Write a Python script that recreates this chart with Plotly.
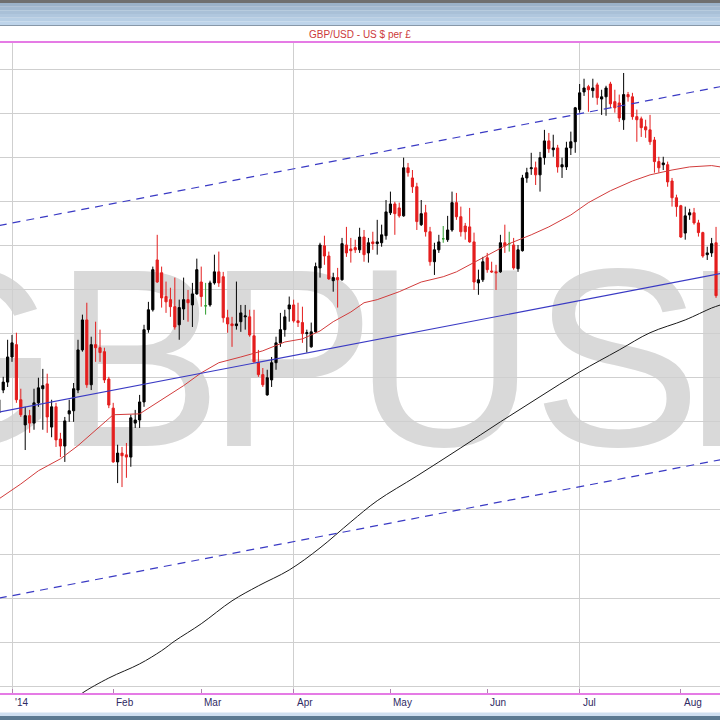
import pandas as pd
import plotly.graph_objects as go

# ---------------- data ----------------
dates = pd.bdate_range("2013-12-27", "2014-08-13")

opens = [1.6420, 1.6472, 1.6490, 1.6547, 1.6575, 1.6450, 1.6393, 1.6414, 1.6397, 1.6443,
         1.6475, 1.6486, 1.6388, 1.6434, 1.6361, 1.6345, 1.6418, 1.6425, 1.6472, 1.6563,
         1.6631, 1.6484, 1.6575, 1.6568, 1.6559, 1.6497, 1.6431, 1.6309, 1.6329, 1.6325,
         1.6320, 1.6397, 1.6404, 1.6445, 1.6609, 1.6654, 1.6767, 1.6738, 1.6684, 1.6677,
         1.6661, 1.6620, 1.6656, 1.6677, 1.6665, 1.6690, 1.6717, 1.6663, 1.6665, 1.6715,
         1.6740, 1.6729, 1.6636, 1.6622, 1.6618, 1.6627, 1.6638, 1.6638, 1.6595, 1.6534,
         1.6507, 1.6461, 1.6495, 1.6534, 1.6579, 1.6609, 1.6656, 1.6665, 1.6629, 1.6625,
         1.6600, 1.6570, 1.6604, 1.6749, 1.6799, 1.6776, 1.6720, 1.6727, 1.6722, 1.6801,
         1.6792, 1.6795, 1.6790, 1.6819, 1.6783, 1.6808, 1.6804, 1.6806, 1.6822, 1.6874,
         1.6894, 1.6885, 1.6867, 1.6976, 1.6953, 1.6933, 1.6847, 1.6874, 1.6831, 1.6763,
         1.6790, 1.6815, 1.6813, 1.6835, 1.6897, 1.6865, 1.6844, 1.6842, 1.6808, 1.6715,
         1.6722, 1.6772, 1.6742, 1.6740, 1.6740, 1.6806, 1.6804, 1.6801, 1.6747, 1.6788,
         1.6953, 1.6974, 1.6976, 1.6960, 1.6999, 1.7037, 1.7017, 1.7021, 1.6978, 1.6978,
         1.7021, 1.7035, 1.7108, 1.7148, 1.7160, 1.7151, 1.7164, 1.7132, 1.7137, 1.7166,
         1.7126, 1.7123, 1.7085, 1.7142, 1.7137, 1.7092, 1.7087, 1.7069, 1.7062, 1.7039,
         1.6990, 1.6983, 1.6983, 1.6946, 1.6908, 1.6890, 1.6828, 1.6869, 1.6874, 1.6851,
         1.6829, 1.6779, 1.6783, 1.6806]
highs = [1.6461, 1.6502, 1.6586, 1.6597, 1.6602, 1.6475, 1.6434, 1.6427, 1.6475, 1.6500,
         1.6520, 1.6509, 1.6450, 1.6443, 1.6375, 1.6411, 1.6450, 1.6488, 1.6586, 1.6643,
         1.6670, 1.6593, 1.6627, 1.6609, 1.6568, 1.6502, 1.6443, 1.6348, 1.6343, 1.6352,
         1.6416, 1.6427, 1.6461, 1.6620, 1.6672, 1.6752, 1.6824, 1.6752, 1.6718, 1.6704,
         1.6727, 1.6677, 1.6727, 1.6699, 1.6715, 1.6770, 1.6752, 1.6715, 1.6720, 1.6779,
         1.6786, 1.6740, 1.6654, 1.6638, 1.6718, 1.6665, 1.6665, 1.6654, 1.6654, 1.6563,
         1.6522, 1.6518, 1.6547, 1.6593, 1.6647, 1.6654, 1.6684, 1.6677, 1.6670, 1.6661,
         1.6609, 1.6625, 1.6761, 1.6806, 1.6822, 1.6786, 1.6738, 1.6749, 1.6817, 1.6842,
         1.6817, 1.6813, 1.6840, 1.6835, 1.6817, 1.6831, 1.6858, 1.6847, 1.6903, 1.6922,
         1.6899, 1.6897, 1.6999, 1.6987, 1.6971, 1.6942, 1.6903, 1.6892, 1.6842, 1.6806,
         1.6824, 1.6844, 1.6867, 1.6922, 1.6919, 1.6888, 1.6851, 1.6885, 1.6829, 1.6745,
         1.6774, 1.6783, 1.6763, 1.6756, 1.6824, 1.6847, 1.6831, 1.6817, 1.6801, 1.6960,
         1.6976, 1.7010, 1.6990, 1.7012, 1.7062, 1.7055, 1.7051, 1.7028, 1.6999, 1.7035,
         1.7058, 1.7114, 1.7166, 1.7178, 1.7164, 1.7178, 1.7169, 1.7153, 1.7162, 1.7171,
         1.7153, 1.7142, 1.7191, 1.7148, 1.7146, 1.7108, 1.7092, 1.7085, 1.7096, 1.7046,
         1.7001, 1.7001, 1.6990, 1.6953, 1.6915, 1.6892, 1.6888, 1.6883, 1.6885, 1.6858,
         1.6831, 1.6797, 1.6817, 1.6842]
lows = [1.6404, 1.6465, 1.6479, 1.6536, 1.6443, 1.6411, 1.6336, 1.6375, 1.6382, 1.6434,
        1.6382, 1.6375, 1.6365, 1.6343, 1.6320, 1.6309, 1.6400, 1.6400, 1.6465, 1.6559,
        1.6477, 1.6472, 1.6536, 1.6536, 1.6488, 1.6431, 1.6307, 1.6261, 1.6252, 1.6273,
        1.6298, 1.6386, 1.6386, 1.6434, 1.6602, 1.6650, 1.6715, 1.6659, 1.6647, 1.6638,
        1.6609, 1.6586, 1.6631, 1.6627, 1.6615, 1.6688, 1.6661, 1.6643, 1.6661, 1.6711,
        1.6706, 1.6625, 1.6602, 1.6570, 1.6609, 1.6604, 1.6609, 1.6593, 1.6534, 1.6502,
        1.6479, 1.6459, 1.6479, 1.6518, 1.6570, 1.6593, 1.6627, 1.6625, 1.6615, 1.6579,
        1.6557, 1.6568, 1.6602, 1.6727, 1.6756, 1.6722, 1.6695, 1.6659, 1.6720, 1.6774,
        1.6761, 1.6783, 1.6783, 1.6763, 1.6761, 1.6790, 1.6779, 1.6797, 1.6813, 1.6869,
        1.6824, 1.6863, 1.6865, 1.6956, 1.6919, 1.6835, 1.6844, 1.6820, 1.6754, 1.6733,
        1.6783, 1.6806, 1.6808, 1.6831, 1.6858, 1.6820, 1.6813, 1.6806, 1.6699, 1.6688,
        1.6717, 1.6738, 1.6738, 1.6699, 1.6738, 1.6783, 1.6786, 1.6745, 1.6740, 1.6786,
        1.6942, 1.6960, 1.6937, 1.6922, 1.6983, 1.7010, 1.7001, 1.6965, 1.6953, 1.6971,
        1.7005, 1.7010, 1.7101, 1.7139, 1.7103, 1.7135, 1.7119, 1.7096, 1.7094, 1.7112,
        1.7101, 1.7080, 1.7062, 1.7126, 1.7085, 1.7035, 1.7046, 1.7044, 1.7028, 1.6965,
        1.6965, 1.6971, 1.6933, 1.6888, 1.6865, 1.6817, 1.6813, 1.6858, 1.6847, 1.6820,
        1.6772, 1.6767, 1.6774, 1.6681]
closes = [1.6450, 1.6490, 1.6547, 1.6579, 1.6450, 1.6416, 1.6414, 1.6397, 1.6443, 1.6477,
          1.6482, 1.6411, 1.6434, 1.6359, 1.6345, 1.6402, 1.6425, 1.6475, 1.6563, 1.6631,
          1.6484, 1.6575, 1.6568, 1.6557, 1.6495, 1.6438, 1.6309, 1.6329, 1.6323, 1.6320,
          1.6409, 1.6404, 1.6445, 1.6609, 1.6654, 1.6745, 1.6717, 1.6681, 1.6672, 1.6661,
          1.6615, 1.6659, 1.6677, 1.6670, 1.6690, 1.6745, 1.6684, 1.6663, 1.6715, 1.6740,
          1.6715, 1.6636, 1.6622, 1.6618, 1.6622, 1.6647, 1.6640, 1.6597, 1.6536, 1.6507,
          1.6484, 1.6500, 1.6534, 1.6579, 1.6609, 1.6638, 1.6665, 1.6629, 1.6625, 1.6600,
          1.6602, 1.6604, 1.6752, 1.6801, 1.6776, 1.6724, 1.6727, 1.6722, 1.6804, 1.6783,
          1.6788, 1.6790, 1.6819, 1.6779, 1.6806, 1.6804, 1.6808, 1.6824, 1.6876, 1.6894,
          1.6872, 1.6867, 1.6976, 1.6965, 1.6933, 1.6854, 1.6872, 1.6831, 1.6763, 1.6790,
          1.6808, 1.6815, 1.6835, 1.6897, 1.6865, 1.6831, 1.6831, 1.6808, 1.6717, 1.6722,
          1.6763, 1.6745, 1.6740, 1.6738, 1.6806, 1.6799, 1.6804, 1.6749, 1.6790, 1.6953,
          1.6965, 1.6976, 1.6960, 1.6999, 1.7037, 1.7019, 1.7021, 1.6978, 1.6983, 1.7021,
          1.7035, 1.7112, 1.7146, 1.7157, 1.7153, 1.7157, 1.7135, 1.7137, 1.7157, 1.7121,
          1.7112, 1.7089, 1.7142, 1.7137, 1.7092, 1.7085, 1.7067, 1.7062, 1.7035, 1.6990,
          1.6976, 1.6987, 1.6944, 1.6908, 1.6888, 1.6819, 1.6867, 1.6874, 1.6851, 1.6829,
          1.6776, 1.6783, 1.6804, 1.6686]

# moving averages
ma_red_dates = ["2013-12-27", "2014-01-03", "2014-01-09", "2014-01-16", "2014-01-22", "2014-01-28",
                "2014-01-31", "2014-02-03", "2014-02-11", "2014-02-18", "2014-02-25", "2014-03-03",
                "2014-03-07", "2014-03-14", "2014-03-21", "2014-03-28", "2014-04-03", "2014-04-09",
                "2014-04-14", "2014-04-18", "2014-04-23", "2014-04-28", "2014-05-05", "2014-05-12",
                "2014-05-19", "2014-05-22", "2014-05-27", "2014-06-02", "2014-06-09", "2014-06-16",
                "2014-06-20", "2014-06-27", "2014-07-03", "2014-07-10", "2014-07-17", "2014-07-23",
                "2014-07-30", "2014-08-05", "2014-08-12", "2014-08-14"]
ma_red_vals = [1.6225, 1.6259, 1.6289, 1.6316, 1.6346, 1.6382, 1.6409, 1.6416, 1.6418, 1.6450,
               1.6482, 1.6511, 1.6534, 1.6547, 1.6561, 1.6581, 1.6588, 1.6606, 1.6627, 1.6649,
               1.6670, 1.6677, 1.6695, 1.6717, 1.6729, 1.6740, 1.6756, 1.6779, 1.6804, 1.6824,
               1.6842, 1.6869, 1.6897, 1.6924, 1.6946, 1.6960, 1.6971, 1.6978, 1.6981, 1.6978]

ma_black_dates = ["2014-01-21", "2014-01-23", "2014-01-31", "2014-02-11", "2014-02-18", "2014-02-21",
                  "2014-03-03", "2014-03-12", "2014-03-20", "2014-03-31", "2014-04-09", "2014-04-18",
                  "2014-04-28", "2014-05-09", "2014-05-23", "2014-06-05", "2014-06-18", "2014-07-01",
                  "2014-07-14", "2014-07-23", "2014-08-04", "2014-08-12", "2014-08-14"]
ma_black_vals = [1.5769, 1.5785, 1.5819, 1.5851, 1.5881, 1.5903, 1.5942, 1.5994, 1.6028, 1.6064,
                 1.6114, 1.6173, 1.6221, 1.6277, 1.6341, 1.6400, 1.6457, 1.6513, 1.6563, 1.6602,
                 1.6631, 1.6658, 1.6665]

# trend channel (end points)
channel_dates = ["2013-12-27", "2014-08-14"]
channel_upper = [1.6845, 1.7160]
channel_mid = [1.6422, 1.6736]
channel_lower = [1.6000, 1.6314]

month_ticks = ["2014-01-01", "2014-02-03", "2014-03-03", "2014-04-01",
               "2014-05-01", "2014-06-02", "2014-07-01", "2014-08-01"]
month_labels = ["'14", "Feb", "Mar", "Apr", "May", "Jun", "Jul", "Aug"]
quarter_ticks = ["2014-01-01", "2014-04-01", "2014-07-01"]

title_text = "GBP/USD - US $ per £"
watermark_text = "GBPUSD"

# ---------------- styling ----------------
RED = "#e41e1e"
BLUE = "#3a3ac4"
GRID = "#cfcfcf"
PINK = "#e57be5"
FONT = "Liberation Sans, Arial, sans-serif"

assert len(dates) == len(opens) == len(highs) == len(lows) == len(closes)

is_doji = [o == c for o, c in zip(opens, closes)]
main_i = [i for i, d in enumerate(is_doji) if not d]
doji_i = [i for i, d in enumerate(is_doji) if d]

fig = go.Figure()

fig.add_trace(go.Candlestick(
    x=[dates[i] for i in main_i],
    open=[opens[i] for i in main_i], high=[highs[i] for i in main_i],
    low=[lows[i] for i in main_i], close=[closes[i] for i in main_i],
    increasing=dict(line=dict(color="#000000", width=1), fillcolor="#000000"),
    decreasing=dict(line=dict(color=RED, width=1), fillcolor=RED),
    whiskerwidth=0, hoverinfo="skip", showlegend=False))

fig.add_trace(go.Candlestick(
    x=[dates[i] for i in doji_i],
    open=[opens[i] for i in doji_i], high=[highs[i] for i in doji_i],
    low=[lows[i] for i in doji_i], close=[closes[i] for i in doji_i],
    increasing=dict(line=dict(color="#2e9e2e", width=1), fillcolor="#2e9e2e"),
    decreasing=dict(line=dict(color="#2e9e2e", width=1), fillcolor="#2e9e2e"),
    whiskerwidth=0, hoverinfo="skip", showlegend=False))

fig.add_trace(go.Scatter(x=ma_red_dates, y=ma_red_vals, mode="lines",
                         line=dict(color="#d23c3c", width=1), hoverinfo="skip", showlegend=False))
fig.add_trace(go.Scatter(x=ma_black_dates, y=ma_black_vals, mode="lines",
                         line=dict(color="#1a1a1a", width=1, shape="spline"), hoverinfo="skip", showlegend=False))
fig.add_trace(go.Scatter(x=channel_dates, y=channel_mid, mode="lines",
                         line=dict(color=BLUE, width=1.2), hoverinfo="skip", showlegend=False))
for ys in (channel_upper, channel_lower):
    fig.add_trace(go.Scatter(x=channel_dates, y=ys, mode="lines",
                             line=dict(color=BLUE, width=1.2, dash="8px,6px"),
                             hoverinfo="skip", showlegend=False))

# ---------------- layout ----------------
W, H, T, B = 720, 720, 43, 27
ph = H - T - B


def py(px):
    """pixel row -> paper y"""
    return (H - B - px) / ph


def pxx(px):
    """pixel column -> paper x"""
    return px / W


shapes = []
# watermark, one letter at a time (tight tracking), below the grid
letter_centers = [-39, 138, 291, 445, 617, 774]
for ch, cx in zip(watermark_text, letter_centers):
    shapes.append(dict(type="rect", xref="paper", yref="paper",
                       x0=pxx(cx - 110), x1=pxx(cx + 110), y0=py(434), y1=py(234),
                       line=dict(width=0), fillcolor="rgba(0,0,0,0)", layer="below",
                       label=dict(text=ch, textposition="middle center",
                                  font=dict(family="Liberation Sans, Arial, sans-serif",
                                            size=254, color="#d9d9d9"))))
# header bar
shapes.append(dict(type="rect", xref="paper", yref="paper", x0=0, x1=1, y0=py(3), y1=py(0),
                   line=dict(width=0), fillcolor="#6f6f6f", layer="above"))
grad = ["#9bb2c9", "#a2b9d0", "#a9c0d7", "#b0c7de", "#b7cee4", "#bed4ea"]
step = 22 / len(grad)
for k, c in enumerate(grad):
    shapes.append(dict(type="rect", xref="paper", yref="paper", x0=0, x1=1,
                       y0=py(3 + (k + 1) * step), y1=py(3 + k * step),
                       line=dict(width=0), fillcolor=c, layer="above"))
shapes.append(dict(type="rect", xref="paper", yref="paper", x0=0, x1=1, y0=py(26), y1=py(25),
                   line=dict(width=0), fillcolor="#8797a8", layer="above"))
# footer bar
shapes.append(dict(type="rect", xref="paper", yref="paper", x0=0, x1=1, y0=py(716), y1=py(712.5),
                   line=dict(width=0), fillcolor="#cfdff0", layer="above"))
shapes.append(dict(type="rect", xref="paper", yref="paper", x0=0, x1=1, y0=py(720), y1=py(716),
                   line=dict(width=0), fillcolor="#5c7a92", layer="above"))

annotations = [dict(text=title_text, xref="paper", yref="paper", x=0.5, y=py(34),
                    xanchor="center", yanchor="middle", showarrow=False,
                    font=dict(family=FONT, size=10, color="#cc3a3a"))]
for d, lab in zip(month_ticks, month_labels):
    annotations.append(dict(text=lab, xref="x", yref="paper", x=d, y=py(702),
                            xanchor="left", yanchor="middle", showarrow=False, xshift=1,
                            font=dict(family=FONT, size=10, color="#2f2a63")))

fig.update_layout(
    width=W, height=H,
    margin=dict(l=0, r=0, t=T, b=B, pad=0),
    paper_bgcolor="white", plot_bgcolor="white",
    showlegend=False, boxgap=0.3, hovermode=False,
    shapes=shapes, annotations=annotations,
    xaxis=dict(type="date", range=["2013-12-27 06:29", "2014-08-13 21:36"],
               rangebreaks=[dict(bounds=["sat", "mon"])],
               rangeslider=dict(visible=False),
               tickmode="array", tickvals=quarter_ticks, showticklabels=False,
               ticks="inside", ticklen=4, tickcolor="#b080b0",
               showgrid=True, gridcolor=GRID, gridwidth=1,
               minor=dict(tickmode="array", tickvals=month_ticks, ticks="inside",
                          ticklen=4, tickcolor="#b080b0", showgrid=False),
               showline=True, linecolor=PINK, linewidth=2, mirror=True, zeroline=False),
    yaxis=dict(range=[1.5785, 1.7259], tickmode="linear", tick0=1.58, dtick=0.01,
               showticklabels=False, showgrid=True, gridcolor=GRID, gridwidth=1,
               zeroline=False, showline=False, ticks=""),
)

fig.write_html("out.html",
               config={"displayModeBar": False, "staticPlot": True},
               post_script="document.body.style.margin='0px';"
                           "document.body.style.overflow='hidden';")
